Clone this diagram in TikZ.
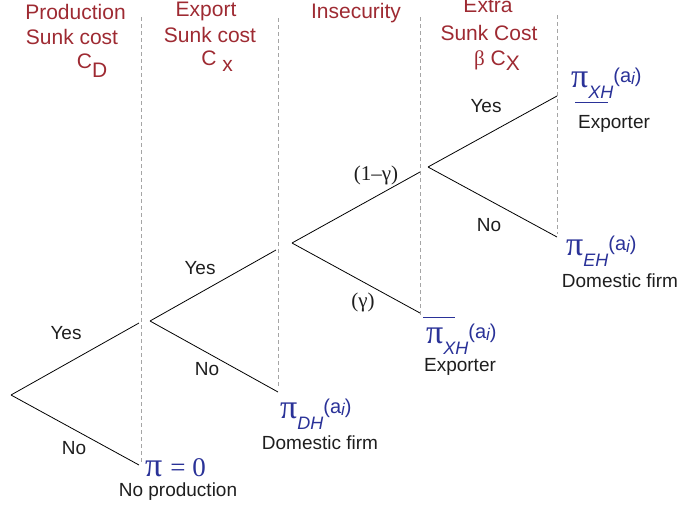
\documentclass[tikz,border=0pt]{standalone}
\usepackage{fontspec}
\setmainfont{Liberation Sans}
\setsansfont{Liberation Sans}
\newfontfamily\grserif{Liberation Serif}
\definecolor{hdrred}{RGB}{158,42,50}
\definecolor{payblue}{RGB}{42,50,152}
\definecolor{dashgray}{RGB}{165,165,165}
\definecolor{txtblack}{RGB}{30,30,30}
\newcommand{\payoff}[1]{{\grserif\fontsize{34}{34}\selectfont π}\raisebox{-11pt}{\itshape\fontsize{18}{18}\selectfont #1}\raisebox{5pt}{\fontsize{20}{20}\selectfont (a\raisebox{-2pt}{\itshape\fontsize{17}{17}\selectfont i})}}
\begin{document}
\begin{tikzpicture}[x=1pt,y=-1pt,
  hdr/.style={text=hdrred,font=\fontsize{21}{25}\selectfont,inner sep=0pt,anchor=base},
  lbl/.style={text=txtblack,font=\fontsize{19}{22}\selectfont,inner sep=0pt},
  prob/.style={text=txtblack,font=\grserif\fontsize{21}{24}\selectfont,inner sep=0pt},
  desc/.style={text=txtblack,font=\fontsize{19}{22}\selectfont,inner sep=0pt,anchor=base},
  pay/.style={text=payblue,inner sep=0pt,anchor=base west},
  edge/.style={draw=black,line width=0.8pt},
  stage/.style={draw=dashgray,line width=0.9pt,dash pattern=on 4pt off 3pt},
  bar/.style={draw=payblue,line width=1pt}]
\useasboundingbox (0,0) rectangle (678,507);

% stage separators
\coordinate (s1t) at (141,17);  \coordinate (s1b) at (141,463);
\coordinate (s2t) at (278,18);  \coordinate (s2b) at (278,388);
\coordinate (s3t) at (420,17);  \coordinate (s3b) at (420,315);
\coordinate (s4t) at (557,15);  \coordinate (s4b) at (557,234);
\draw[stage] (s1t) -- (s1b);
\draw[stage] (s2t) -- (s2b);
\draw[stage] (s3t) -- (s3b);
\draw[stage] (s4t) -- (s4b);

% headers
\node[hdr] (h1a) at (75.5,19.5) {Production};
\node[hdr] (h1b) at (72,44) {Sunk cost};
\node[hdr] (h1c) at (92,68) {C\raisebox{-9pt}{D}};
\node[hdr] (h2a) at (206,16.5) {Export};
\node[hdr] (h2b) at (210,42) {Sunk cost};
\node[hdr] (h2c) at (217,65) {C \raisebox{-6pt}{x}};
\node[hdr] (h3a) at (356,18) {Insecurity};
\node[hdr] (h4a) at (488,12) {Extra};
\node[hdr] (h4b) at (489,40) {Sunk Cost};
\node[hdr] (h4c) at (497,65) {{\grserif β} C\raisebox{-5pt}{X}};

% tree points
\coordinate (r)  at (11,395);
\coordinate (a1) at (139,323);
\coordinate (a2) at (139,465);
\coordinate (n2) at (150,321);
\coordinate (b1) at (276,250);
\coordinate (b2) at (278,392);
\coordinate (n3) at (292,243);
\coordinate (c1) at (420,172);
\coordinate (c2) at (420,313);
\coordinate (n4) at (428,167);
\coordinate (d1) at (557,96);
\coordinate (d2) at (557,237);

\draw[edge] (r) -- (a1);
\draw[edge] (r) -- (a2);
\draw[edge] (n2) -- (b1);
\draw[edge] (n2) -- (b2);
\draw[edge] (n3) -- (c1);
\draw[edge] (n3) -- (c2);
\draw[edge] (n4) -- (d1);
\draw[edge] (n4) -- (d2);

% branch labels
\node[lbl] (l1) at (66,333) {Yes};
\node[lbl] (l2) at (74,448) {No};
\node[lbl] (l3) at (200,268) {Yes};
\node[lbl] (l4) at (207,369) {No};
\node[prob] (l5) at (376,175) {(1–γ)};
\node[prob] (l6) at (363,302) {(γ)};
\node[lbl] (l7) at (486,106) {Yes};
\node[lbl] (l8) at (489,225) {No};

% payoffs
\node[pay] (p1) at (571,87) {\payoff{XH}};
\node[desc] (e1) at (614,128) {Exporter};
\node[pay] (p2) at (566,255) {\payoff{EH}};
\node[desc] (e2) at (620,287) {Domestic firm};
\node[pay] (p3) at (426,343) {\payoff{XH}};
\node[desc] (e3) at (460,371) {Exporter};
\node[pay] (p4) at (280,418) {\payoff{DH}};
\node[desc] (e4) at (320,449) {Domestic firm};
\node[pay] (p5) at (145,476) {{\grserif\fontsize{34}{34}\selectfont π}\hspace{8pt}{\grserif\fontsize{27}{27}\selectfont = 0}};
\node[desc] (e5) at (178,496) {No production};

% bars
\coordinate (u1a) at (575,102); \coordinate (u1b) at (608,102);
\draw[bar] (u1a) -- (u1b);
\coordinate (o3a) at (423,317); \coordinate (o3b) at (455,317);
\draw[bar] (o3a) -- (o3b);
\end{tikzpicture}
\end{document}
